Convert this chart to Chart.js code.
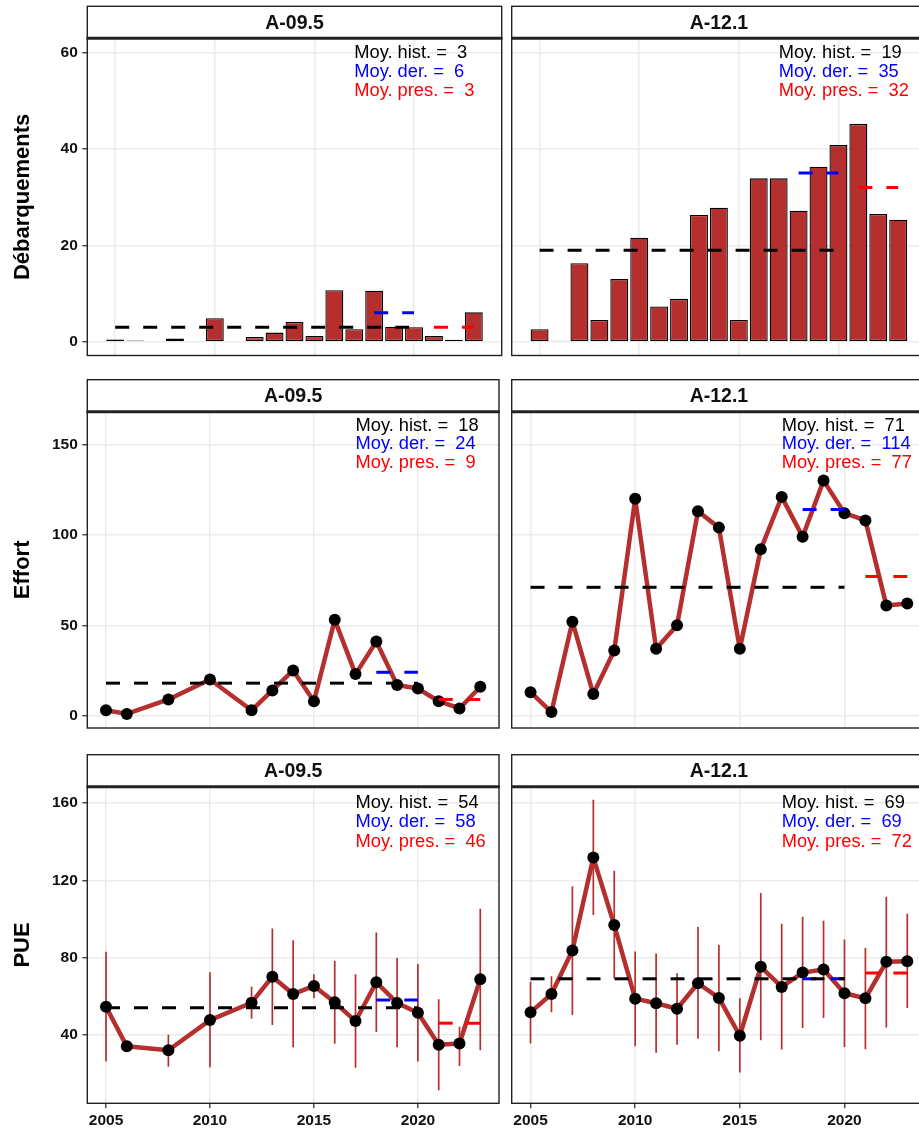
<!DOCTYPE html>
<html lang="fr">
<head>
<meta charset="UTF-8">
<title>Débarquements, effort et PUE</title>
<script src="https://cdn.jsdelivr.net/npm/chart.js"></script>
<style>
  html, body { margin: 0; padding: 0; background: #fff; overflow: hidden; }
  body { width: 919px; height: 1128px; position: relative; }
</style>
</head>
<body>
<script>
// ---- données ----
const years = [2005, 2006, 2007, 2008, 2009, 2010, 2011, 2012, 2013, 2014, 2015, 2016, 2017, 2018, 2019, 2020, 2021, 2022, 2023];
const zones = ['A-09.5', 'A-12.1'];
const rowTitles = ['Débarquements', 'Effort', 'PUE'];

// Débarquements
const debA095 = [0.45, 0.25, null, 0.7, null, 4.9, null, 1.0, 1.9, 4.1, 1.2, 10.7, 2.6, 10.6, 3.1, 3.0, 1.2, 0.4, 6.1];
const debA121 = [2.6, 0.2, 16.3, 4.5, 13.0, 21.6, 7.3, 8.9, 26.3, 27.8, 4.5, 33.9, 33.9, 27.2, 36.3, 40.8, 45.2, 26.5, 25.3];

// Effort
const effA095 = [3, 1, null, 9, null, 20, null, 3, 14, 25, 8, 53, 23, 41, 17, 15, 8, 4, 16];
const effA121 = [13, 2, 52, 12, 36, 120, 37, 50, 113, 104, 37, 92, 121, 99, 130, 112, 108, 61, 62];

// PUE (valeur, borne basse, borne haute)
const pueA095 = [54.5, 34, null, 32, null, 47.6, null, 56.6, 70.1, 61.1, 65.3, 56.8, 47.1, 67.2, 56.5, 51.4, 34.8, 35.5, 68.8];
const pueLoA095 = [26.3, null, null, 23.4, null, 23.2, null, 48.3, 45.0, 33.5, 58.9, 35.3, 22.9, 41.4, 33.5, 26.2, 11.3, 23.8, 32.0];
const pueHiA095 = [83.0, null, null, 40.0, null, 72.4, null, 64.9, 95.1, 89.0, 71.4, 78.3, 71.4, 93.0, 79.8, 76.7, 58.4, 44.2, 105.3];
const pueA121 = [51.6, 61.1, 83.6, 131.8, 96.8, 58.7, 56.3, 53.5, 66.7, 59.1, 39.5, 75.2, 64.8, 72.2, 73.8, 61.5, 58.9, 77.8, 78.1];
const pueLoA121 = [35.5, 51.6, 50.2, 102.0, 69.3, 34.1, 30.7, 34.8, 37.9, 31.5, 20.5, 37.1, 32.4, 43.5, 48.7, 33.6, 32.5, 43.8, 53.9];
const pueHiA121 = [67.5, 70.3, 116.9, 161.8, 124.9, 83.1, 82.1, 71.9, 95.8, 86.6, 58.9, 113.5, 97.5, 101.1, 99.1, 89.4, 85.0, 111.5, 102.7];

// moyennes, dans l'ordre : deb A-09.5, deb A-12.1, eff A-09.5, eff A-12.1, pue A-09.5, pue A-12.1
const moyHist = [3, 19, 18, 71, 54, 69];
const moyDer = [6, 35, 24, 114, 58, 69];
const moyPres = [3, 32, 9, 77, 46, 72];
const periodeHist = [2005, 2020];
const periodeDer = [2018, 2020];
const periodePres = [2021, 2023];

// ticks
const ticksAnnees = [2005, 2010, 2015, 2020];
const ticksDeb = [0, 20, 40, 60];
const ticksEff = [0, 50, 100, 150];
const ticksPue = [40, 80, 120, 160];

// ---- mise en page ----
const FONT = "'Liberation Sans', Arial, Helvetica, sans-serif";
const ROUGE = '#B52F2F';
Chart.defaults.font.family = FONT;
Chart.defaults.plugins.legend.display = false;
Chart.defaults.plugins.tooltip.enabled = false;

const rowGeo = [
  {top: 0, height: 360, padT: 38.3, xH: 4.5},
  {top: 372, height: 362, padT: 39.7, xH: 4},
  {top: 748, height: 380, padT: 38.7, xH: 24.7}
];
const colGeo = [
  {left: 0, width: 505, yW: 87.3, padR: 3.3},
  {left: 505, width: 430, yW: 6.7, padR: 8.9}
];

const rows = [
  {kind: 'bar', ticks: ticksDeb, yMin: -2.85, yMax: 62.95, noteY: [60, 56, 52],
   series: [debA095, debA121]},
  {kind: 'line', ticks: ticksEff, yMin: -6.8, yMax: 168.1, noteY: [160, 150, 140],
   series: [effA095, effA121]},
  {kind: 'pue', ticks: ticksPue, yMin: 4.5, yMax: 168.5, noteY: [160, 150, 140],
   series: [pueA095, pueA121], lo: [pueLoA095, pueLoA121], hi: [pueHiA095, pueHiA121]}
];

const facet = {
  id: 'facet',
  beforeDraw(chart, args, o) {
    const {ctx, chartArea: a} = chart;
    const h = 32;
    ctx.save();
    ctx.fillStyle = '#fff';
    ctx.fillRect(a.left, a.top - h, a.right - a.left, h);
    ctx.strokeStyle = '#222';
    ctx.lineWidth = 1.4;
    ctx.strokeRect(a.left, a.top - h, a.right - a.left, h);
    ctx.fillStyle = '#111';
    ctx.font = 'bold 19.5px ' + FONT;
    ctx.textAlign = 'center';
    ctx.textBaseline = 'middle';
    ctx.fillText(o.strip, (a.left + a.right) / 2, a.top - h / 2 + 1);
    ctx.restore();
  },
  afterDatasetsDraw(chart, args, o) {
    const {ctx} = chart;
    const x = chart.scales.x.getPixelForValue(2017);
    ctx.save();
    ctx.font = '18.3px ' + FONT;
    ctx.textAlign = 'left';
    ctx.textBaseline = 'middle';
    o.notes.forEach((n, i) => {
      ctx.fillStyle = n.color;
      ctx.fillText(n.text, x, chart.scales.y.getPixelForValue(o.noteY[i]));
    });
    ctx.restore();
  },
  afterDraw(chart) {
    const {ctx, chartArea: a} = chart;
    ctx.save();
    ctx.strokeStyle = '#222';
    ctx.lineWidth = 1.4;
    ctx.strokeRect(a.left, a.top, a.right - a.left, a.bottom - a.top);
    ctx.lineWidth = 3;
    ctx.beginPath();
    ctx.moveTo(a.left - 0.7, a.top);
    ctx.lineTo(a.right + 0.7, a.top);
    ctx.stroke();
    ctx.restore();
  }
};

function points(arr) {
  return years.map((x, i) => ({x, y: arr[i]})).filter(p => p.y !== null);
}

function segment(periode, v, color) {
  return {
    type: 'line',
    data: [{x: periode[0], y: v}, {x: periode[1], y: v}],
    borderColor: color, borderWidth: 3, borderDash: [14, 14], borderCapStyle: 'butt',
    pointRadius: 0, fill: false
  };
}

function placeCanvas(left, top, width, height) {
  const div = document.createElement('div');
  div.style.cssText = `position:absolute;left:${left}px;top:${top}px;width:${width}px;height:${height}px`;
  const c = document.createElement('canvas');
  c.width = width;
  c.height = height;
  c.style.width = width + 'px';
  c.style.height = height + 'px';
  div.appendChild(c);
  document.body.appendChild(div);
  return c;
}

rows.forEach((row, r) => {
  zones.forEach((zone, c) => {
    const g = rowGeo[r], cg = colGeo[c];
    const k = r * 2 + c;
    const isBar = row.kind === 'bar';
    const showX = r === 2;
    const showY = c === 0;

    const datasets = [
      segment(periodeHist, moyHist[k], '#000'),
      segment(periodeDer, moyDer[k], '#0000FF'),
      segment(periodePres, moyPres[k], '#FF0000')
    ];
    if (isBar) {
      datasets.push({
        type: 'bar',
        data: points(row.series[c]),
        backgroundColor: ROUGE, borderColor: '#000', borderWidth: 1.3, borderSkipped: false,
        barPercentage: 0.9, categoryPercentage: 1.0
      });
    } else {
      datasets.push({
        type: 'line',
        data: points(row.series[c]),
        borderColor: ROUGE, borderWidth: 4.5, borderJoinStyle: 'round', borderCapStyle: 'round',
        pointRadius: 6, pointBackgroundColor: '#000', pointBorderWidth: 0, pointHoverRadius: 6,
        fill: false, tension: 0
      });
    }
    if (row.kind === 'pue') {
      const lo = row.lo[c], hi = row.hi[c];
      const bars = years.flatMap((x, i) => lo[i] === null ? [] :
        [{x, y: lo[i]}, {x, y: hi[i]}, {x, y: null}]);
      datasets.push({
        type: 'line', data: bars, spanGaps: false,
        borderColor: ROUGE, borderWidth: 1.7, pointRadius: 0, fill: false
      });
    }

    const canvas = placeCanvas(cg.left, g.top, cg.width, g.height);
    new Chart(canvas, {
      type: isBar ? 'bar' : 'line',
      data: {datasets},
      options: {
        responsive: false,
        animation: false,
        events: [],
        layout: {padding: {top: g.padT, right: cg.padR, left: 0, bottom: 0}},
        scales: {
          x: {
            type: 'linear',
            min: isBar ? 2003.6 : 2004.1,
            max: isBar ? 2024.4 : 2023.9,
            offset: false,
            afterBuildTicks: s => { s.ticks = ticksAnnees.map(v => ({value: v})); },
            afterFit: s => { s.height = g.xH; s.paddingLeft = 0; s.paddingRight = 0; },
            grid: {offset: false, color: '#EBEBEB', lineWidth: 1.5, drawTicks: showX, tickLength: 5,
                   tickColor: '#333', tickWidth: 1.3},
            border: {display: false},
            ticks: {display: showX, autoSkip: false, maxRotation: 0, padding: 3, color: '#111',
                    font: {size: 15.5, weight: 'bold'}, callback: v => String(v)}
          },
          y: {
            min: row.yMin,
            max: row.yMax,
            afterBuildTicks: s => { s.ticks = row.ticks.map(v => ({value: v})); },
            afterFit: s => { s.width = cg.yW; s.paddingTop = 0; s.paddingBottom = 0; },
            grid: {color: '#EBEBEB', lineWidth: 1.5, drawTicks: showY, tickLength: 5, tickColor: '#333', tickWidth: 1.3},
            border: {display: false},
            ticks: {display: showY, padding: 4.5, color: '#111', font: {size: 15.5, weight: 'bold'},
                    callback: v => String(v)},
            title: {display: showY, text: rowTitles[r], color: '#000',
                    font: {size: 22, weight: 'bold'}, padding: {top: 9.8, bottom: 0}}
          }
        },
        plugins: {
          facet: {
            strip: zone,
            noteY: row.noteY,
            notes: [
              {text: 'Moy. hist. =  ' + moyHist[k], color: '#000'},
              {text: 'Moy. der. =  ' + moyDer[k], color: '#0000FF'},
              {text: 'Moy. pres. =  ' + moyPres[k], color: '#FF0000'}
            ]
          }
        }
      },
      plugins: [facet]
    });
  });
});
</script>
</body>
</html>
